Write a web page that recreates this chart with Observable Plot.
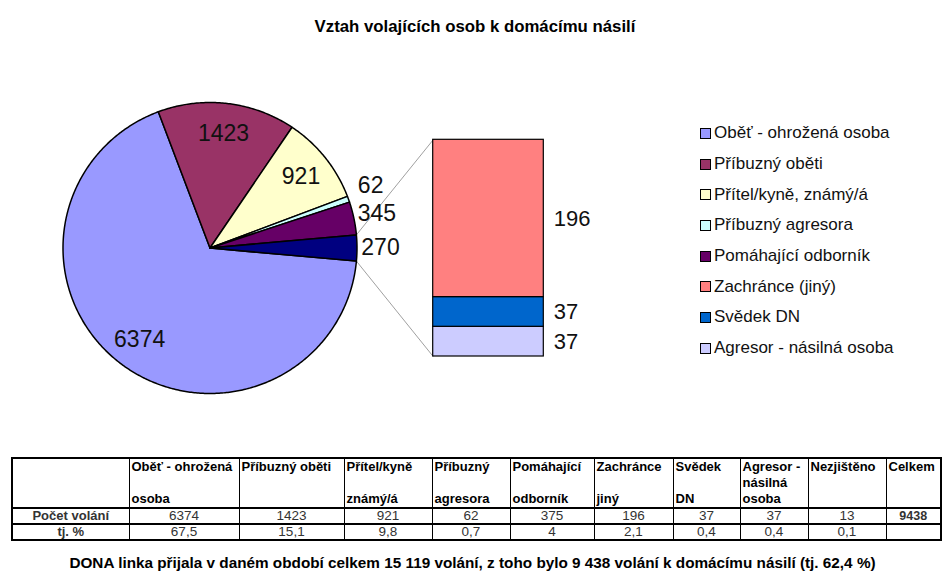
<!DOCTYPE html>
<html><head><meta charset="utf-8">
<script src="https://cdn.jsdelivr.net/npm/d3@7"></script>
<script src="https://cdn.jsdelivr.net/npm/@observablehq/plot@0.6"></script>
<style>
body{margin:0;background:#fff;font-family:"Liberation Sans",Arial,sans-serif;color:#000;}
#root{position:relative;width:945px;height:574px;overflow:hidden;background:#fff;}
#chart{position:absolute;left:0;top:0;}
#title{position:absolute;left:0;width:950px;top:17px;text-align:center;font-weight:bold;font-size:16.8px;}
#legend{position:absolute;left:700px;top:118px;}
.li{height:30.7px;display:flex;align-items:center;font-size:17px;white-space:nowrap;color:#111;}
.sw{width:9px;height:9px;border:1px solid #000;margin-right:3px;flex:none;}
#tbl{position:absolute;left:11px;top:457px;border-collapse:collapse;border:2px solid #000;font-size:13px;table-layout:fixed;}
#tbl td{border-left:1px solid #000;border-right:1px solid #000;padding:0 2px;overflow:hidden;white-space:nowrap;}
#tbl tr.hd td{height:48px;vertical-align:top;font-weight:bold;border-bottom:2px solid #000;}
#tbl tr.r1 td{height:14px;text-align:center;border-bottom:2px solid #000;line-height:14px;color:#333;font-size:13.5px;}
#tbl tr.r2 td{height:14px;text-align:center;line-height:14px;color:#333;font-size:13.5px;}
#tbl td.rh{font-weight:bold;color:#000;font-size:13px !important;}
#tbl td.tot{font-weight:bold;color:#000;font-size:12.5px !important;}
.hc{display:flex;flex-direction:column;height:48px;line-height:16px;}
.hc.multi{justify-content:space-between;}
#caption{position:absolute;left:0;width:945px;top:554px;text-align:center;font-weight:bold;font-size:15.3px;}
</style>
</head><body>
<div id="root">
  <div id="chart"></div>
  <div id="title"></div>
  <div id="legend"></div>
  <table id="tbl"></table>
  <div id="caption"></div>
</div>
<script>
// ---------- data ----------
const titleText = "Vztah volajících osob k domácímu násilí";
const pieLabels = ["Oběť - ohrožená osoba", "Příbuzný oběti", "Přítel/kyně, známý/á", "Příbuzný agresora", "Pomáhající odborník"];
const pieValues = [6374, 1423, 921, 62, 345];
const barLabels = ["Zachránce (jiný)", "Svědek DN", "Agresor - násilná osoba"];
const barValues = [196, 37, 37];

const tableRowLabels = ["Počet volání", "tj. %"];
const tableHeaders = [["Oběť - ohrožená", "osoba"], ["Příbuzný oběti"], ["Přítel/kyně", "známý/á"], ["Příbuzný", "agresora"], ["Pomáhající", "odborník"], ["Zachránce", "jiný"], ["Svědek", "DN"], ["Agresor -", "násilná", "osoba"], ["Nezjištěno"], ["Celkem"]];
const tableCounts = ["6374", "1423", "921", "62", "375", "196", "37", "37", "13", "9438"];
const tablePercents = ["67,5", "15,1", "9,8", "0,7", "4", "2,1", "0,4", "0,4", "0,1", ""];
const captionText = "DONA linka přijala v daném období celkem 15 119 volání, z toho bylo 9 438 volání k domácímu násilí (tj. 62,4 %)";

// ---------- styles ----------
const pieColors = ["#9999FF", "#993366", "#FFFFCC", "#CCFFFF", "#660066"];
const otherColor = "#000080";
const barColors = ["#FF8080", "#0066CC", "#CCCCFF"];
const colWidths = [117, 110, 105, 88, 78, 84, 79, 67, 68, 78, 55];

// ---------- layout ----------
const W = 945, H = 440;
const cx = 209.5, cy = 247.5, rx = 147, ry = 145.5;
const barU = [(432.7 - cx) / rx, (543.3 - cx) / rx];
const barV = [(cy - 356) / ry, (cy - 139.3) / ry];
const labelFont = 23;

const otherValue = d3.sum(barValues);
const allValues = [...pieValues, otherValue];
const allColors = [...pieColors, otherColor];
const total = d3.sum(allValues);
const otherSpan = 2 * Math.PI * otherValue / total;
const a0 = Math.PI / 2 + otherSpan / 2;
const arcs = d3.pie().sort(null).startAngle(a0).endAngle(a0 + 2 * Math.PI)(allValues);

const slices = arcs.map((a, i) => {
  const n = Math.max(2, Math.ceil((a.endAngle - a.startAngle) / 0.01));
  const pts = [{u: 0, v: 0}];
  for (let k = 0; k <= n; k++) {
    const t = a.startAngle + (a.endAngle - a.startAngle) * k / n;
    pts.push({u: Math.sin(t), v: Math.cos(t)});
  }
  pts.push({u: 0, v: 0});
  return {pts, color: allColors[i]};
});

const pieText = arcs.map((a, i) => {
  const m = (a.startAngle + a.endAngle) / 2;
  const inside = a.data / total > 0.05;
  const r = inside ? 0.79 : 1.16;
  return {u: r * Math.sin(m), v: r * Math.cos(m), t: String(a.data), inside};
});
// keep outside labels from overlapping: walk from the lowest one upward
const outside = pieText.filter(d => !d.inside).sort((a, b) => a.v - b.v);
const minGap = 28 / ry;
for (let i = 1; i < outside.length; i++) {
  if (outside[i].v - outside[i - 1].v < minGap) outside[i].v = outside[i - 1].v + minGap;
}

const barScale = d3.scaleLinear().domain([0, otherValue]).range(barV);
let acc = 0;
const barRows = [];
for (let i = barValues.length - 1; i >= 0; i--) {
  barRows.push({v1: barScale(acc), v2: barScale(acc + barValues[i]), color: barColors[i], t: String(barValues[i]), vm: barScale(acc + barValues[i] / 2)});
  acc += barValues[i];
}

const oArc = arcs[arcs.length - 1];
const connectors = [
  {u1: Math.sin(oArc.startAngle), v1: Math.cos(oArc.startAngle), u2: barU[0], v2: barV[1]},
  {u1: Math.sin(oArc.endAngle), v1: Math.cos(oArc.endAngle), u2: barU[0], v2: barV[0]}
];

const plot = Plot.plot({
  width: W, height: H, margin: 0,
  x: {domain: [-cx / rx, (W - cx) / rx], axis: null},
  y: {domain: [(cy - H) / ry, cy / ry], axis: null},
  color: {type: "identity"},
  style: {fontFamily: "'Liberation Sans', Arial, sans-serif", background: "transparent"},
  marks: [
    Plot.link(connectors, {x1: "u1", y1: "v1", x2: "u2", y2: "v2", stroke: "#a0a0a0", strokeWidth: 1}),
    ...slices.map(s => Plot.line(s.pts, {x: "u", y: "v", fill: s.color, stroke: "#000", strokeWidth: 1.5, strokeLinejoin: "round", curve: "linear"})),
    Plot.rect(barRows, {x1: barU[0], x2: barU[1], y1: "v1", y2: "v2", fill: "color", stroke: "#000", strokeWidth: 1.2}),
    Plot.text(pieText, {x: "u", y: "v", text: "t", fontSize: labelFont, fill: "#111"}),
    Plot.text(barRows, {x: barU[1], y: "vm", text: "t", fontSize: 22, fill: "#111", textAnchor: "start", dx: 10})
  ]
});
document.getElementById("chart").appendChild(plot);

document.getElementById("title").textContent = titleText;
document.getElementById("caption").textContent = captionText;

// legend
const leg = document.getElementById("legend");
[...pieLabels, ...barLabels].forEach((lab, i) => {
  const c = i < pieColors.length ? pieColors[i] : barColors[i - pieColors.length];
  const row = document.createElement("div"); row.className = "li";
  const sw = document.createElement("div"); sw.className = "sw"; sw.style.background = c;
  const tx = document.createElement("span"); tx.textContent = lab;
  row.append(sw, tx); leg.appendChild(row);
});

// table
const tbl = document.getElementById("tbl");
const cg = document.createElement("colgroup");
colWidths.forEach(w => { const c = document.createElement("col"); c.style.width = w + "px"; cg.appendChild(c); });
tbl.appendChild(cg);
const hr = document.createElement("tr"); hr.className = "hd";
hr.appendChild(document.createElement("td"));
tableHeaders.forEach(lines => {
  const td = document.createElement("td");
  const d = document.createElement("div"); d.className = "hc" + (lines.length > 1 ? " multi" : "");
  lines.forEach(l => { const s = document.createElement("span"); s.textContent = l; d.appendChild(s); });
  td.appendChild(d); hr.appendChild(td);
});
tbl.appendChild(hr);
[tableCounts, tablePercents].forEach((vals, r) => {
  const tr = document.createElement("tr"); tr.className = r === 0 ? "r1" : "r2";
  const th = document.createElement("td"); th.className = "rh"; th.textContent = tableRowLabels[r]; tr.appendChild(th);
  vals.forEach((v, j) => {
    const td = document.createElement("td"); td.textContent = v;
    if (j === vals.length - 1) td.className = "tot";
    tr.appendChild(td);
  });
  tbl.appendChild(tr);
});
</script>
</body></html>
